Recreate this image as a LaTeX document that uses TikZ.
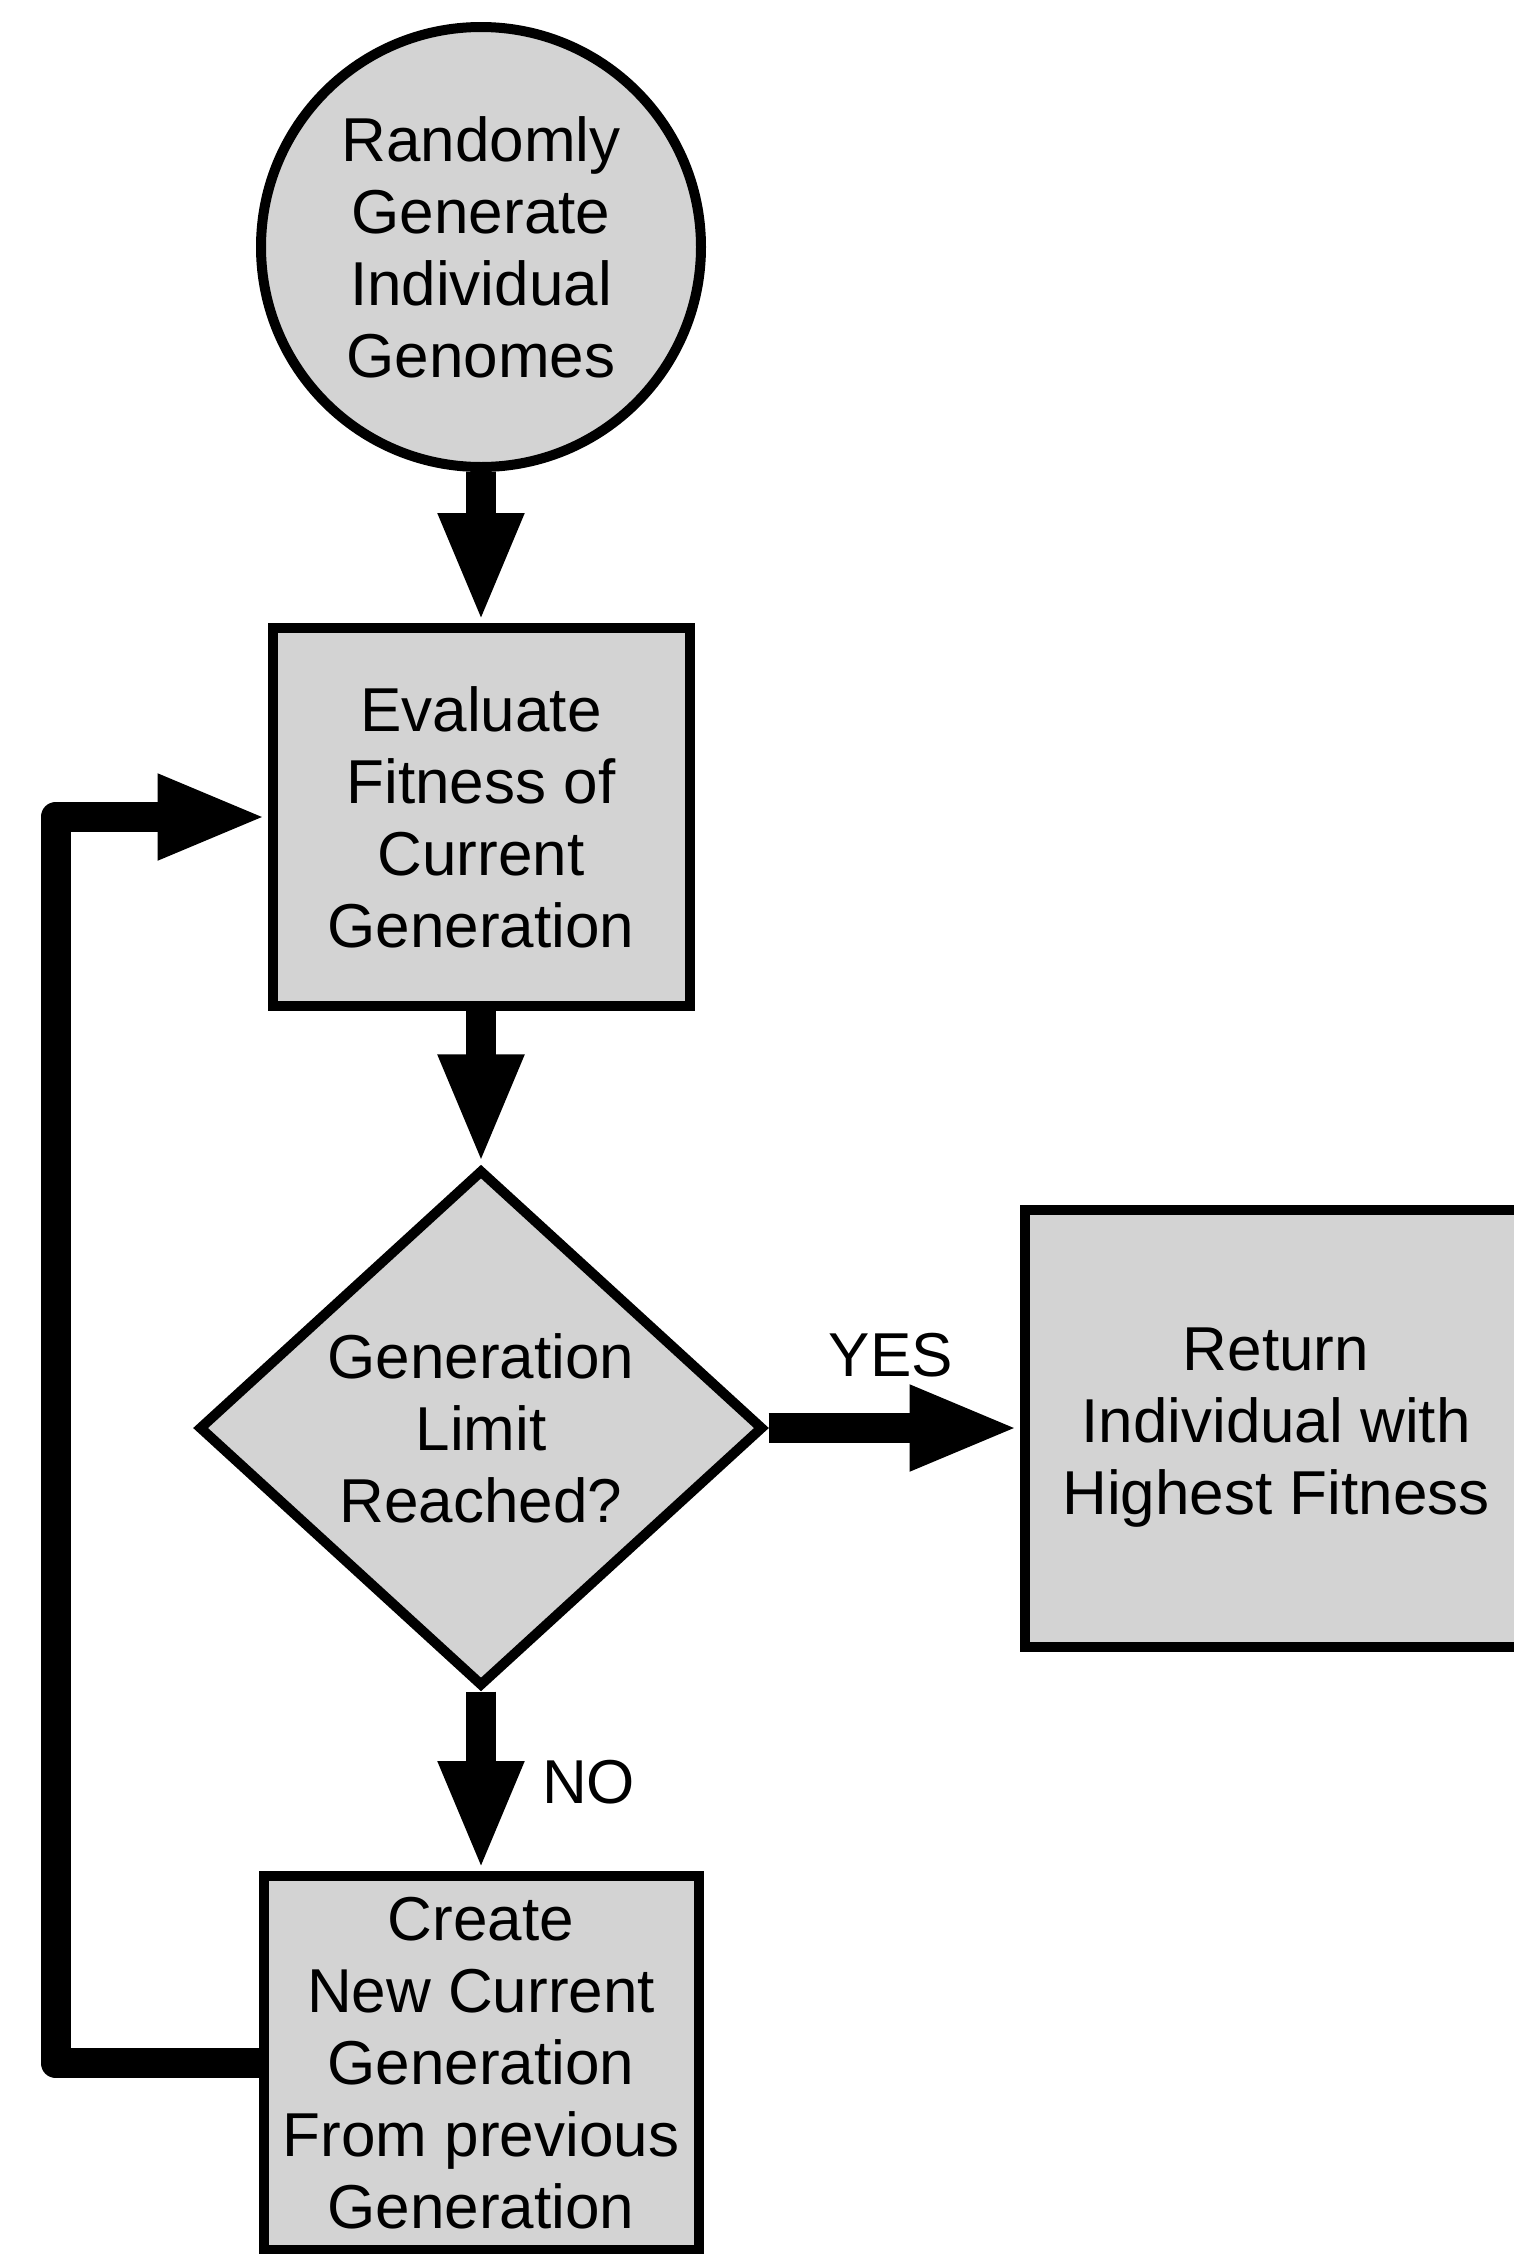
\documentclass[tikz,border=0pt]{standalone}
\usepackage{fontspec}
\setmainfont{Liberation Sans}
\usetikzlibrary{shapes.geometric,arrows.meta}
\definecolor{boxgray}{RGB}{211,211,211}
\begin{document}
\begin{tikzpicture}[x=1pt,y=-1pt,
    stepnode/.style={draw=black,line width=10pt,fill=boxgray,align=center,inner sep=0pt,
      font=\fontsize{62}{72}\selectfont},
    startnode/.style={stepnode,circle,minimum size=440pt},
    boxnode/.style={stepnode,rectangle},
    testnode/.style={stepnode,diamond,aspect=1.1,minimum width=565pt,minimum height=517pt},
    flow/.style={line width=30pt,line join=round,-{Triangle[length=110pt,width=78pt]}},
    tag/.style={font=\fontsize{62}{72}\selectfont,inner sep=0pt}]
  % page frame, 1513 x 2254, y runs downwards
  \useasboundingbox (0,0) rectangle (1513,2254);
  % Start circle
  \node[startnode] (start) at (481,247) {Randomly\\Generate\\Individual\\Genomes};
  % Evaluate box
  \node[boxnode,minimum width=417pt,minimum height=378pt] (evaluate) at (481,817)
    {Evaluate\\Fitness of\\Current\\Generation};
  % Decision diamond
  \node[testnode] (test) at (481,1428) {Generation\\Limit\\Reached?};
  % Result box (runs off the right edge)
  \node[boxnode,minimum width=503pt,minimum height=437pt] (result) at (1276,1428)
    {Return\\Individual with\\Highest Fitness};
  % New generation box (runs off the bottom edge)
  \node[boxnode,minimum width=435pt,minimum height=374pt] (create) at (481,2063)
    {Create\\New Current\\Generation\\From previous\\Generation};
  % Arrows
  \draw[flow] (start) -- (evaluate);
  \draw[flow] (evaluate) -- (test);
  \draw[flow] (test.east) -- (result.west);
  \draw[flow] (test) -- (create);
  \draw[flow] (create.west) -- ++(-203,0) |- (evaluate.west);
  % Branch labels
  \node[tag] (yes) at (891,1355) {YES};
  \node[tag,anchor=west] (no) at (542,1782) {NO};
\end{tikzpicture}
\end{document}
